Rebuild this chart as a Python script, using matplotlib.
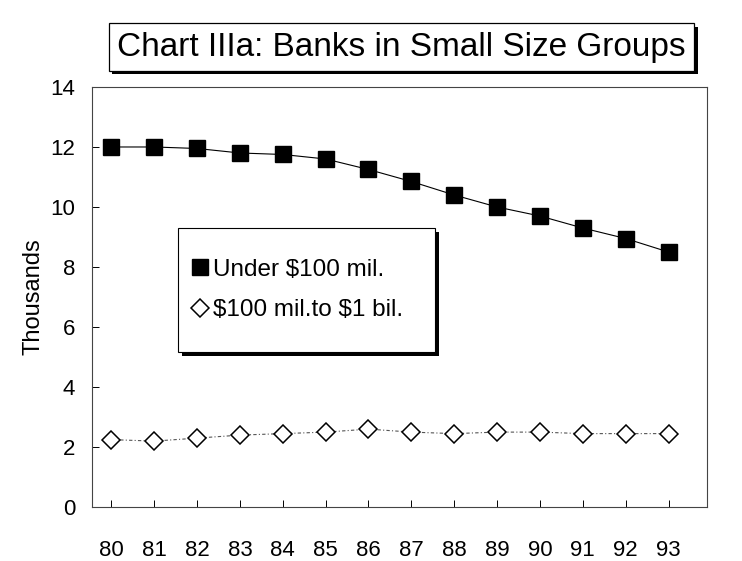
import matplotlib.pyplot as plt
import matplotlib.patheffects as pe
from matplotlib.patches import Rectangle

plt.rcParams['font.family'] = ['Liberation Sans', 'DejaVu Sans']

years = ['80', '81', '82', '83', '84', '85', '86', '87', '88', '89', '90', '91', '92', '93']
under100 = [12.0, 12.0, 11.95, 11.8, 11.75, 11.6, 11.25, 10.85, 10.4, 10.0, 9.7, 9.3, 8.95, 8.5]
mid100to1b = [2.25, 2.2, 2.3, 2.4, 2.45, 2.5, 2.6, 2.5, 2.45, 2.5, 2.5, 2.45, 2.45, 2.45]

fig = plt.figure(figsize=(7.42, 5.61), dpi=100)
ax = fig.add_axes([0.124, 0.096, 0.829, 0.749])

x = list(range(len(years)))
ax.plot(x, under100, color='black', lw=0.8, marker='s', ms=12,
        mfc='black', mec='black', label='Under \\$100 mil.')
ax.plot(x, mid100to1b, color='#555555', lw=0.8, ls=(0, (3, 2, 1, 2)), marker='D', ms=9.5,
        mfc='white', mec='black', mew=1.1, label='\\$100 mil.to \\$1 bil.')

ax.set_xlim(-0.45, 13.9)
ax.set_ylim(0, 14)
ax.set_xticks(x)
ax.set_xticklabels(years)
ax.set_yticks(range(0, 15, 2))
ax.tick_params(direction='in', length=5, width=0.7, labelsize=16)
ax.tick_params(axis='x', pad=24)
ax.tick_params(axis='y', pad=12)
for s in ax.spines.values():
    s.set_linewidth(0.8)
    s.set_color('#444444')
ax.set_ylabel('Thousands', fontsize=17, labelpad=4)

# legend box with drop shadow
box = Rectangle((0.140, 0.369), 0.418, 0.295, transform=ax.transAxes,
                fc='white', ec='black', lw=0.8, zorder=4)
box.set_path_effects([pe.SimplePatchShadow(offset=(3, -3), shadow_rgbFace='black', alpha=1),
                      pe.Normal()])
ax.add_patch(box)
leg = ax.legend(loc='center', bbox_to_anchor=(0.335, 0.517), fontsize=17.5,
                frameon=False, handlelength=0.6, handletextpad=0.25,
                borderpad=0.2, labelspacing=0.75)
leg.set_zorder(5)

title = fig.text(0.541, 0.916, 'Chart IIIa: Banks in Small Size Groups', fontsize=24,
                 ha='center', va='center',
                 bbox=dict(boxstyle='square,pad=0.25', fc='white', ec='black', lw=0.9))
title.get_bbox_patch().set_path_effects(
    [pe.SimplePatchShadow(offset=(2.5, -2.5), shadow_rgbFace='black', alpha=1), pe.Normal()])

fig.savefig('out.png', dpi=100)
